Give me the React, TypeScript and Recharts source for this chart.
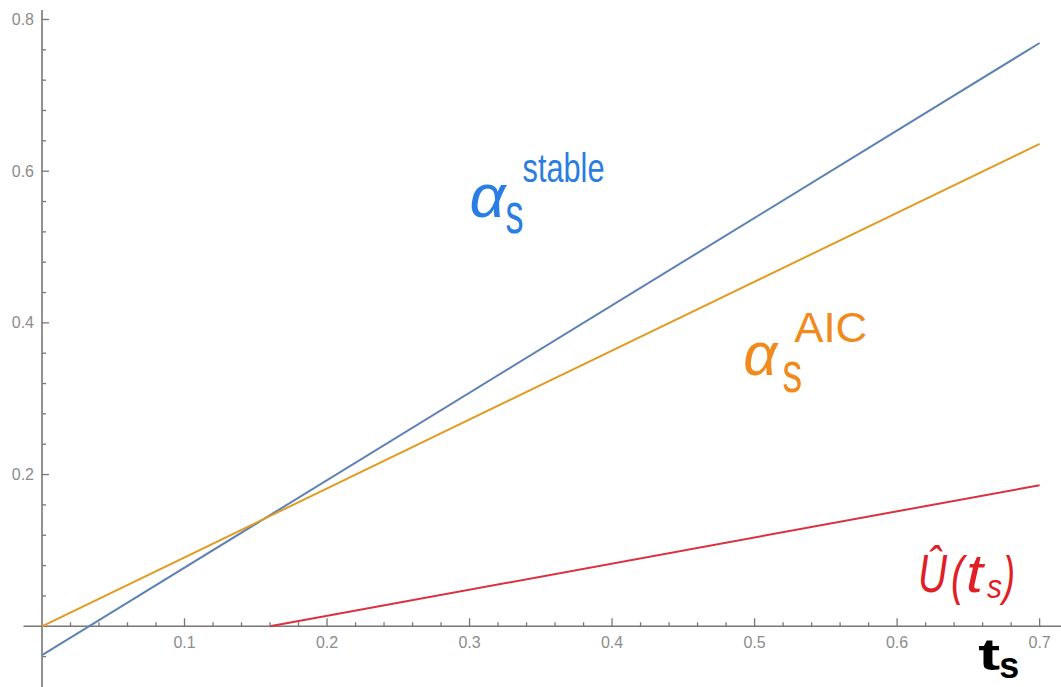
import { LineChart, Line, XAxis, YAxis, ReferenceLine, ReferenceDot } from "recharts";

const TS = [0, 0.7];
const STABLE = [-0.038, 0.769];
const AIC = [0, 0.636];
const U_TS = [0.16, 0.7];
const U_HAT = [0, 0.186];

const X_TICKS = [
  0.02, 0.04, 0.06, 0.08, 0.1, 0.12, 0.14, 0.16, 0.18, 0.2, 0.22, 0.24, 0.26, 0.28, 0.3, 0.32, 0.34, 0.36,
  0.38, 0.4, 0.42, 0.44, 0.46, 0.48, 0.5, 0.52, 0.54, 0.56, 0.58, 0.6, 0.62, 0.64, 0.66, 0.68, 0.7,
];
const Y_TICKS = [
  -0.04, 0.04, 0.08, 0.12, 0.16, 0.2, 0.24, 0.28, 0.32, 0.36, 0.4, 0.44, 0.48, 0.52, 0.56, 0.6, 0.64, 0.68,
  0.72, 0.76, 0.8,
];

const W = 1061;
const H = 687;
const TOP = 10;
const X_AXIS_H = 20;
const X_DOMAIN: [number, number] = [0, 0.715];
const Y_DOMAIN: [number, number] = [-0.0537, 0.8125];
const PLOT_H = H - TOP - X_AXIS_H;
// distance from the bottom of the plot up to y = 0, where the x axis crosses
const ZERO_OFFSET = (PLOT_H * (0 - Y_DOMAIN[0])) / (Y_DOMAIN[1] - Y_DOMAIN[0]);

const AXIS = "#777777";
const TICK_TEXT = "#8c8c8c";
const FONT = "'Liberation Sans', Arial, sans-serif";

const stableData = TS.map((t, i) => ({ t, v: STABLE[i] }));
const aicData = TS.map((t, i) => ({ t, v: AIC[i] }));
const uData = U_TS.map((t, i) => ({ t, v: U_HAT[i] }));

const isMajor = (v: number, step: number) => Math.abs(v / step - Math.round(v / step)) < 1e-6;

function XTick({ x, y, payload }: any) {
  const y0 = y - ZERO_OFFSET;
  const major = isMajor(payload.value, 0.1);
  return (
    <g>
      <line x1={x} x2={x} y1={y0} y2={y0 - (major ? 8 : 4)} stroke={AXIS} strokeWidth={1.3} />
      {major && (
        <text x={x} y={y0 + 16} textAnchor="middle" dominantBaseline="central" fill={TICK_TEXT} fontSize={16} fontFamily={FONT}>
          {payload.value.toFixed(1)}
        </text>
      )}
    </g>
  );
}

function YTick({ x, y, payload }: any) {
  const major = isMajor(payload.value, 0.2);
  return (
    <g>
      <line x1={x} x2={x + (major ? 7 : 4)} y1={y} y2={y} stroke={AXIS} strokeWidth={1.3} />
      {major && (
        <text x={x - 8} y={y} textAnchor="end" dominantBaseline="central" fill={TICK_TEXT} fontSize={16} fontFamily={FONT}>
          {payload.value.toFixed(1)}
        </text>
      )}
    </g>
  );
}

type Part = { text: string; dx: number; dy: number; size: number; w: number; italic?: boolean; bold?: boolean };

function mathLabel(parts: Part[], color: string) {
  return (props: any) => {
    const vb = props.viewBox || {};
    const ax = vb.x + (vb.width || 0) / 2;
    const ay = vb.y + (vb.height || 0) / 2;
    return (
      <g>
        {parts.map((p, i) => (
          <text
            key={i}
            x={ax + p.dx}
            y={ay + p.dy}
            fill={color}
            fontSize={p.size}
            fontFamily={FONT}
            fontStyle={p.italic ? "italic" : "normal"}
            fontWeight={p.bold ? "bold" : "normal"}
            textLength={p.w}
            lengthAdjust="spacingAndGlyphs"
          >
            {p.text}
          </text>
        ))}
      </g>
    );
  };
}

const stableLabel = mathLabel(
  [
    { text: "α", dx: 0, dy: 0, size: 62, w: 36, italic: true },
    { text: "s", dx: 36, dy: 16, size: 58, w: 18 },
    { text: "stable", dx: 53, dy: -35, size: 40, w: 82 },
  ],
  "#2a7de1"
);

const aicLabel = mathLabel(
  [
    { text: "α", dx: 0, dy: -1, size: 62, w: 34, italic: true },
    { text: "s", dx: 39, dy: 16, size: 58, w: 20 },
    { text: "AIC", dx: 51, dy: -34, size: 42, w: 73 },
  ],
  "#f08a1c"
);

const uLabel = mathLabel(
  [
    { text: "Û", dx: 1, dy: 0, size: 54, w: 29, italic: true },
    { text: "(", dx: 34, dy: 2, size: 54, w: 13, italic: true },
    { text: "t", dx: 49, dy: 0, size: 54, w: 17, italic: true },
    { text: "s", dx: 70, dy: 6, size: 34, w: 15, italic: true },
    { text: ")", dx: 86, dy: 2, size: 54, w: 12, italic: true },
  ],
  "#e01e25"
);

const tsLabel = mathLabel(
  [
    { text: "t", dx: 0, dy: 0, size: 44, w: 22, bold: true },
    { text: "s", dx: 21, dy: 8, size: 36, w: 20, bold: true },
  ],
  "#000000"
);

export default function App() {
  return (
    <div style={{ position: "absolute", left: 0, top: 0, width: W, height: H, background: "#fff" }}>
      <LineChart width={W} height={H} margin={{ top: TOP, right: 0, bottom: 0, left: 0 }}>
        <XAxis
          type="number"
          dataKey="t"
          domain={X_DOMAIN}
          allowDataOverflow
          ticks={X_TICKS}
          interval={0}
          height={X_AXIS_H}
          axisLine={false}
          tickLine={false}
          tickSize={0}
          tickMargin={0}
          tick={<XTick />}
        />
        <YAxis
          type="number"
          domain={Y_DOMAIN}
          allowDataOverflow
          ticks={Y_TICKS}
          interval={0}
          width={42}
          axisLine={false}
          tickLine={false}
          tickSize={0}
          tickMargin={0}
          tick={<YTick />}
        />
        <ReferenceLine
          segment={[
            { x: -0.013, y: 0 },
            { x: 0.715, y: 0 },
          ]}
          stroke={AXIS}
          strokeWidth={1.6}
          ifOverflow="visible"
        />
        <ReferenceLine
          segment={[
            { x: 0, y: -0.08 },
            { x: 0, y: 0.8125 },
          ]}
          stroke={AXIS}
          strokeWidth={1.6}
          ifOverflow="visible"
        />
        <Line data={stableData} dataKey="v" type="linear" stroke="#5e81b5" strokeWidth={2} dot={false} isAnimationActive={false} />
        <Line data={aicData} dataKey="v" type="linear" stroke="#e19c24" strokeWidth={2} dot={false} isAnimationActive={false} />
        <Line data={uData} dataKey="v" type="linear" stroke="#dc3040" strokeWidth={2} dot={false} isAnimationActive={false} />
        <ReferenceDot x={0.3} y={0.54} r={0} fill="none" stroke="none" ifOverflow="visible" label={stableLabel} />
        <ReferenceDot x={0.492} y={0.33} r={0} fill="none" stroke="none" ifOverflow="visible" label={aicLabel} />
        <ReferenceDot x={0.614} y={0.045} r={0} fill="none" stroke="none" ifOverflow="visible" label={uLabel} />
        <ReferenceDot x={0.657} y={-0.058} r={0} fill="none" stroke="none" ifOverflow="visible" label={tsLabel} />
      </LineChart>
    </div>
  );
}
